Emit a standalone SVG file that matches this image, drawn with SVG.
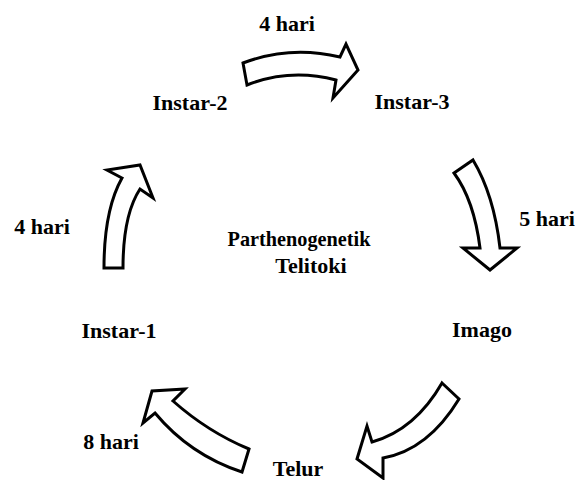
<svg xmlns="http://www.w3.org/2000/svg" width="583" height="480" viewBox="0 0 583 480">
<style>
text{font-family:'Liberation Serif','Times New Roman','DejaVu Serif',serif;font-weight:700;font-size:22px;fill:#000;text-anchor:middle}
.arr{fill:#fff;stroke:#000;stroke-width:3;stroke-linejoin:miter}
</style>
<rect width="583" height="480" fill="#fff"/>
<g id="connectors">
<path id="a-instar2-instar3" class="arr" d="M243,63 Q290,45 340,57 L346,44 L358,70 L333,98 L336,80 Q290,68 247,85 Z"/>
<path id="a-instar3-imago" class="arr" d="M454,173 L473,160 Q494,195 500,248 L517,248 L490,270 L463,248 L480,248 Q474,200 454,173 Z"/>
<path id="a-imago-telur" class="arr" d="M442,383 L459,399 Q428,450 383,458 L383,478 L357,459 L367,426 L372,442 Q415,430 442,383 Z"/>
<path id="a-telur-instar1" class="arr" d="M242,472 Q190,455 155,413 L143,423 L152,391 L185,389 L173,401 Q208,432 249,449 Z"/>
<path id="a-instar1-instar2" class="arr" d="M104,268 L123,268 Q123,215 140,189 L153,198 L140,165 L107,170 L122,178 Q104,210 104,268 Z"/>
</g>
<g id="center"><text x="299" y="246" textLength="143" lengthAdjust="spacingAndGlyphs">Parthenogenetik</text><text x="311" y="273">Telitoki</text></g>
<g id="instar2"><text x="190" y="110">Instar-2</text></g>
<g id="instar3"><text x="412" y="109">Instar-3</text></g>
<g id="imago"><text x="482" y="337">Imago</text></g>
<g id="telur"><text x="298" y="476">Telur</text></g>
<g id="instar1"><text x="119" y="338">Instar-1</text></g>
<g id="lbl-top"><text x="287" y="31">4 hari</text></g>
<g id="lbl-right"><text x="547" y="226">5 hari</text></g>
<g id="lbl-left"><text x="42" y="234">4 hari</text></g>
<g id="lbl-bottom"><text x="111" y="449">8 hari</text></g>
</svg>
